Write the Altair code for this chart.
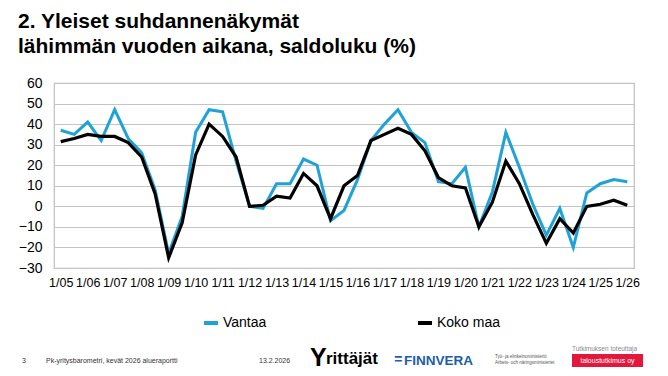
import altair as alt
import pandas as pd

# ---- data ----
years = [f"{y:02d}" for y in range(5, 27)]
periods = []
for y in years:
    periods.append(f"1/{y}")
    if y != "26":
        periods.append(f"2/{y}")
tick_labels = [f"1/{y}" for y in years]

vantaa = [37, 35, 41, 32, 47, 33, 26, 8, -23, -5, 36, 47, 46, 22, 0, -1, 11, 11, 23, 20,
          -7, -2, 13, 32, 40, 47, 36, 31, 12, 11, 19, -10, 7, 36, 19, 1, -14, -1, -20, 6.5,
          11, 13, 12]
koko_maa = [31.5, 33, 35, 34, 34, 31, 24, 6, -25, -8, 25, 40, 34, 24, 0, 0.5, 5, 4, 16, 10,
            -6, 10, 15, 32, 35, 38, 35, 27, 14, 10, 9, -10, 2, 22, 11, -4, -18, -6, -13, 0,
            1, 3, 0.5]
series = ["Vantaa", "Koko maa"]
colors = ["#1fa2d6", "#000000"]

title_lines = ["2. Yleiset suhdannenäkymät", "lähimmän vuoden aikana, saldoluku (%)"]

df_v = pd.DataFrame({"jakso": periods, "arvo": vantaa, "sarja": series[0]})
df_k = pd.DataFrame({"jakso": periods, "arvo": koko_maa, "sarja": series[1]})

FONT = "Liberation Sans"
OX, OY = 54, 83  # plot origin on the page

x_enc = alt.X("jakso:O", sort=periods,
              scale=alt.Scale(domain=periods),
              axis=alt.Axis(values=tick_labels, labelAngle=0, ticks=False, domain=False,
                            grid=False, labelFontSize=12.5, labelPadding=8,
                            labelOverlap=False, labelColor="#000", title=None,
                            labelFont=FONT))
y_enc = alt.Y("arvo:Q", scale=alt.Scale(domain=[-30, 60], nice=False, zero=False),
              axis=alt.Axis(values=list(range(-30, 61, 10)), ticks=False, domain=False,
                            grid=True, gridColor="#c4c4c4", gridWidth=1.2,
                            labelFontSize=14, labelPadding=12, labelColor="#000",
                            title=None, labelFont=FONT))
c_enc = alt.Color("sarja:N",
                  scale=alt.Scale(domain=series, range=colors),
                  legend=alt.Legend(orient="none", legendX=148, legendY=231,
                                    direction="horizontal", title=None,
                                    symbolType="stroke", symbolSize=196,
                                    symbolStrokeWidth=4, labelFontSize=14,
                                    labelFont=FONT, labelColor="#000",
                                    columnPadding=143, labelOffset=3))

line_v = alt.Chart(df_v).mark_line(strokeWidth=3).encode(x=x_enc, y=y_enc, color=c_enc)
line_k = alt.Chart(df_k).mark_line(strokeWidth=3.2).encode(x=x_enc, y=y_enc, color=c_enc)


def txt(text, px, py, size, color="#000", weight="normal", align="left", style="normal"):
    return alt.Chart(alt.Data(values=[{}])).mark_text(
        text=text, fontSize=size, font=FONT, color=color, fontWeight=weight,
        align=align, baseline="alphabetic", fontStyle=style
    ).encode(x=alt.value(px - OX), y=alt.value(py - OY))


def box(x1, x2, y1, y2, color):
    return alt.Chart(alt.Data(values=[{}])).mark_rect(color=color).encode(
        x=alt.value(x1 - OX), x2=alt.value(x2 - OX),
        y=alt.value(y1 - OY), y2=alt.value(y2 - OY))


decor = [
    txt(title_lines[0], 18, 28, 21, weight="bold"),
    txt(title_lines[1], 18, 53, 21, weight="bold"),
    txt("3", 22, 363, 7, color="#333"),
    txt("Pk-yritysbarometri, kevät 2026 alueraportti", 46, 363, 7, color="#333"),
    txt("13.2.2026", 259, 363, 7, color="#333"),
    txt("Y", 310, 366, 25, weight="bold"),
    txt("rittäjät", 326, 364, 17, weight="bold"),
    txt("=", 394, 364, 14, color="#1d5daa", weight="bold", style="italic"),
    txt("FINNVERA", 404, 365, 13.5, color="#1d5daa", weight="bold"),
    txt("Työ- ja elinkeinoministeriö", 495, 358, 4.5, color="#555"),
    txt("Arbets- och näringsministeriet", 495, 364, 4.5, color="#555"),
    txt("Tutkimuksen toteuttaja", 572, 351, 6.5, color="#8a8a8a"),
    box(572, 643, 354, 367, "#e3173b"),
    txt("taloustutkimus oy", 607.5, 363, 7, color="#ffffff", align="center"),
]

chart = alt.layer(line_v, line_k, *decor).properties(
    width=580, height=185,
    autosize=alt.AutoSizeParams(type="none"),
    padding={"left": OX, "top": OY, "right": 668 - OX - 580, "bottom": 376 - OY - 185},
    background="white",
).configure_view(stroke="#bfbfbf", strokeWidth=1.2)

chart.save("out.html", embed_options={"renderer": "svg", "actions": False})
